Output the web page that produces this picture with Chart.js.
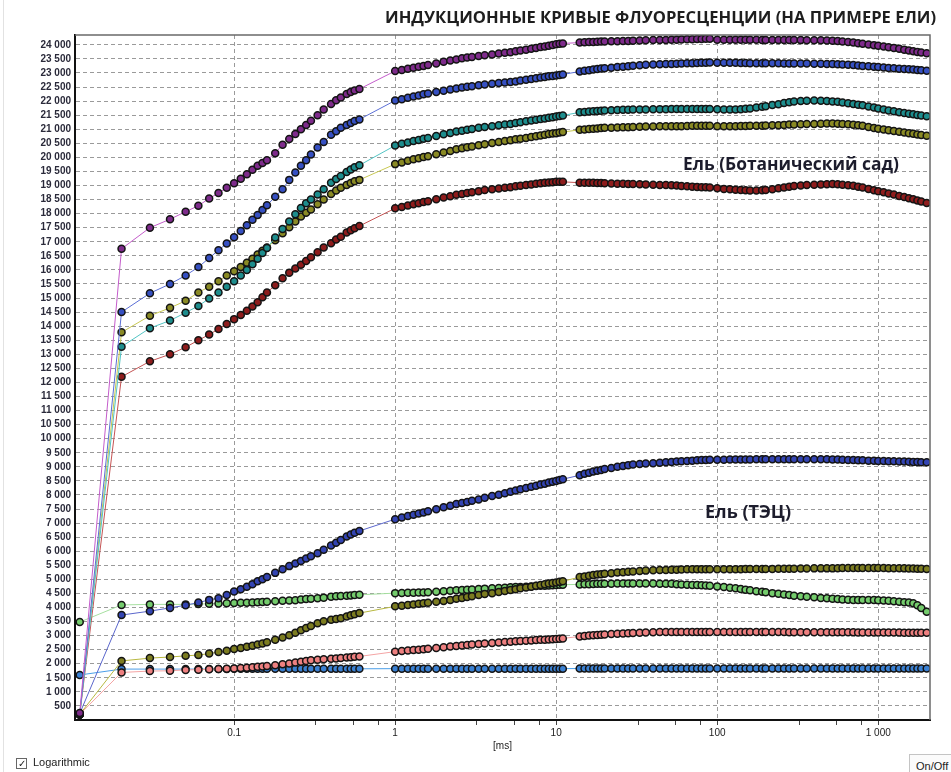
<!DOCTYPE html>
<html>
<head>
<meta charset="utf-8">
<script src="https://cdn.jsdelivr.net/npm/chart.js@4.4.1/dist/chart.umd.min.js"></script>
<style>
	body { margin: 0; background: #fff; }
	#wrap { position: relative; width: 951px; height: 772px; overflow: hidden; }
	#c { display: block; }
	#edge { position: absolute; left: 3px; top: 0; width: 1px; height: 772px; background: #e2e2e2; }
	#title { position: absolute; left: 385px; top: 6px; font: bold 16.6px "Open Sans", sans-serif; color: #1e1e1e; white-space: nowrap; line-height: 22px; }
	.note { position: absolute; font: bold 17.4px "Open Sans", sans-serif; color: #1c1c2c; white-space: nowrap; line-height: 24px; }
	#bot { left: 683px; top: 151px; }
	#tec { left: 705px; top: 499px; font-size: 18px; }
	#logopt { position: absolute; left: 16px; top: 756px; font: 11px "Liberation Sans", Arial, sans-serif; color: #222; white-space: nowrap; }
	#logopt .box { display: inline-block; width: 9px; height: 9px; border: 1px solid #666; background: #fff; font-size: 10px; line-height: 9px; text-align: center; margin-right: 6px; vertical-align: -1px; }
	#onoff { position: absolute; left: 909px; top: 754px; width: 46px; height: 22px; border: 1px solid #c4c4c4; background: #fbfbfb; font: 11px "Liberation Sans", Arial, sans-serif; color: #222; line-height: 22px; padding-left: 6px; box-sizing: border-box; }
</style>
</head>
<body>
<div id="wrap">
	<canvas id="c" width="951" height="772"></canvas>
	<div id="edge"></div>
	<div id="title">ИНДУКЦИОННЫЕ КРИВЫЕ ФЛУОРЕСЦЕНЦИИ (НА ПРИМЕРЕ ЕЛИ)</div>
	<div class="note" id="bot">Ель (Ботанический сад)</div>
	<div class="note" id="tec">Ель (ТЭЦ)</div>
	<div id="logopt"><span class="box">✓</span>Logarithmic</div>
	<div id="onoff">On/Off</div>
</div>
<script>
// time points, ms (four measuring segments)
const times = [
	0.011, 0.02, 0.03, 0.04, 0.05, 0.06, 0.07, 0.08, 0.09, 0.1, 0.11, 0.12, 0.13, 0.14, 0.15, 0.16, 0.18, 0.2, 0.22, 0.24, 0.26, 0.28, 0.3, 0.33, 0.36, 0.4, 0.43, 0.46, 0.5, 0.53, 0.56, 0.6,
	1, 1.1, 1.2, 1.3, 1.4, 1.5, 1.6, 1.8, 2, 2.2, 2.4, 2.6, 2.8, 3, 3.3, 3.6, 4, 4.4, 4.8, 5.2, 5.6, 6, 6.5, 7, 7.5, 8, 8.5, 9, 9.5, 10, 10.5, 11,
	14, 15, 16, 17, 18, 19, 20, 22, 24, 26, 28, 30, 33, 36, 40, 44, 48, 52, 56, 60, 65, 70, 75, 80, 85, 90,
	100, 110, 120, 130, 140, 150, 160, 175, 190, 200, 220, 240, 260, 280, 300, 330, 360, 400, 440, 480, 520, 560, 600, 650, 700, 750, 800, 870, 940, 1000, 1080, 1160, 1250, 1350, 1450, 1550, 1650, 1750, 1850, 2000
];

// Ель (Ботанический сад)
const botPurple = [
	250, 16750, 17500, 17800, 18070, 18280, 18540, 18730, 18920, 19080, 19240, 19400, 19560, 19700, 19800, 19900, 20150, 20450, 20650, 20830, 21000, 21150, 21300, 21500, 21700, 21900, 22030, 22130, 22250, 22320, 22380, 22430,
	23070, 23110, 23150, 23190, 23220, 23250, 23280, 23340, 23400, 23440, 23480, 23520, 23550, 23570, 23600, 23630, 23660, 23690, 23720, 23740, 23770, 23800, 23830, 23860, 23890, 23920, 23945, 23970, 23995, 24020, 24035, 24050,
	24080, 24090, 24100, 24105, 24110, 24115, 24120, 24125, 24130, 24135, 24140, 24150, 24155, 24160, 24170, 24175, 24175, 24180, 24185, 24190, 24195, 24200, 24205, 24210, 24215, 24220,
	24180, 24180, 24180, 24180, 24180, 24180, 24180, 24178, 24176, 24175, 24173, 24171, 24170, 24170, 24170, 24168, 24167, 24165, 24160, 24155, 24145, 24135, 24120, 24100, 24080, 24060, 24040, 24015, 23990, 23970, 23940, 23915, 23890, 23860, 23830, 23800, 23775, 23750, 23730, 23700
];
const botBlue = [
	200, 14500, 15170, 15500, 15800, 16100, 16420, 16700, 16940, 17160, 17380, 17590, 17780, 17950, 18130, 18300, 18600, 18870, 19200, 19460, 19700, 19900, 20100, 20350, 20550, 20800, 20930, 21050, 21150, 21220, 21290, 21350,
	22020, 22070, 22120, 22160, 22200, 22240, 22270, 22320, 22370, 22410, 22450, 22480, 22510, 22530, 22560, 22590, 22620, 22640, 22660, 22680, 22700, 22730, 22760, 22790, 22815, 22840, 22860, 22880, 22895, 22910, 22930, 22950,
	23050, 23075, 23100, 23120, 23140, 23155, 23170, 23190, 23210, 23225, 23240, 23260, 23275, 23290, 23300, 23310, 23315, 23320, 23330, 23340, 23345, 23350, 23355, 23360, 23365, 23370,
	23360, 23360, 23360, 23360, 23355, 23355, 23350, 23350, 23350, 23350, 23345, 23345, 23340, 23340, 23340, 23335, 23335, 23330, 23325, 23320, 23315, 23310, 23300, 23290, 23280, 23265, 23250, 23235, 23220, 23210, 23195, 23180, 23165, 23150, 23140, 23130, 23120, 23105, 23095, 23080
];
const botTeal = [
	200, 13270, 13930, 14200, 14480, 14720, 14980, 15200, 15400, 15600, 15800, 16000, 16200, 16400, 16600, 16780, 17150, 17450, 17720, 17980, 18200, 18370, 18500, 18680, 18870, 19100, 19230, 19340, 19480, 19570, 19650, 19720,
	20420, 20480, 20530, 20580, 20620, 20660, 20690, 20760, 20820, 20870, 20920, 20950, 20980, 21010, 21050, 21080, 21110, 21140, 21170, 21190, 21220, 21250, 21280, 21310, 21340, 21360, 21385, 21410, 21430, 21450, 21470, 21490,
	21600, 21615, 21630, 21640, 21650, 21660, 21670, 21675, 21685, 21690, 21695, 21700, 21705, 21705, 21710, 21715, 21715, 21720, 21720, 21720, 21720, 21720, 21720, 21720, 21720, 21720,
	21710, 21705, 21700, 21700, 21710, 21725, 21740, 21770, 21800, 21820, 21860, 21890, 21930, 21960, 21990, 22005, 22015, 22020, 22010, 22000, 21990, 21975, 21950, 21925, 21900, 21875, 21850, 21810, 21770, 21740, 21700, 21670, 21640, 21600, 21575, 21550, 21530, 21505, 21485, 21460
];
const botOlive = [
	200, 13780, 14370, 14650, 14900, 15200, 15400, 15600, 15800, 15950, 16100, 16250, 16400, 16550, 16680, 16800, 17050, 17300, 17520, 17720, 17900, 18030, 18150, 18330, 18500, 18700, 18820, 18920, 19020, 19090, 19150, 19200,
	19760, 19820, 19880, 19930, 19970, 20010, 20040, 20110, 20170, 20230, 20290, 20320, 20360, 20390, 20430, 20470, 20510, 20550, 20580, 20610, 20640, 20660, 20690, 20720, 20750, 20780, 20805, 20830, 20845, 20860, 20880, 20900,
	20980, 20995, 21010, 21020, 21030, 21040, 21050, 21055, 21065, 21070, 21075, 21080, 21090, 21095, 21100, 21105, 21105, 21110, 21110, 21110, 21115, 21120, 21120, 21120, 21120, 21120,
	21110, 21110, 21110, 21110, 21115, 21115, 21120, 21125, 21128, 21130, 21140, 21145, 21155, 21165, 21170, 21180, 21185, 21190, 21195, 21200, 21200, 21195, 21190, 21175, 21160, 21140, 21120, 21080, 21045, 21020, 20990, 20965, 20940, 20910, 20885, 20860, 20840, 20815, 20795, 20770
];
const botRed = [
	200, 12200, 12750, 13000, 13250, 13500, 13700, 13900, 14080, 14250, 14400, 14550, 14700, 14850, 15030, 15200, 15450, 15700, 15900, 16050, 16180, 16320, 16450, 16630, 16800, 16950, 17080, 17180, 17330, 17410, 17480, 17560,
	18190, 18240, 18290, 18330, 18370, 18410, 18440, 18510, 18570, 18620, 18670, 18700, 18730, 18760, 18800, 18840, 18870, 18890, 18920, 18940, 18970, 18990, 19020, 19040, 19060, 19080, 19095, 19110, 19120, 19130, 19130, 19130,
	19100, 19100, 19100, 19095, 19090, 19085, 19080, 19075, 19065, 19060, 19055, 19050, 19045, 19040, 19030, 19020, 19015, 19010, 19000, 18980, 18970, 18960, 18950, 18940, 18935, 18930,
	18900, 18880, 18865, 18850, 18840, 18830, 18820, 18820, 18830, 18840, 18870, 18900, 18930, 18960, 18980, 19000, 19015, 19030, 19040, 19045, 19050, 19045, 19030, 19010, 18990, 18960, 18930, 18880, 18830, 18800, 18760, 18720, 18680, 18630, 18590, 18550, 18510, 18470, 18430, 18380
];

// Ель (ТЭЦ)
const tecBlue = [
	230, 3730, 3870, 3985, 4080, 4175, 4270, 4330, 4440, 4570, 4650, 4740, 4830, 4930, 5000, 5080, 5230, 5360, 5470, 5560, 5650, 5740, 5820, 5930, 6050, 6200, 6300, 6400, 6520, 6590, 6660, 6720,
	7140, 7200, 7250, 7300, 7340, 7380, 7420, 7490, 7560, 7620, 7680, 7710, 7750, 7790, 7840, 7900, 7960, 8010, 8060, 8110, 8160, 8200, 8250, 8290, 8330, 8370, 8400, 8440, 8470, 8500, 8530, 8560,
	8700, 8750, 8790, 8830, 8860, 8890, 8920, 8960, 9000, 9030, 9060, 9080, 9100, 9115, 9130, 9145, 9160, 9170, 9185, 9200, 9210, 9220, 9230, 9240, 9245, 9250,
	9250, 9255, 9258, 9260, 9260, 9260, 9260, 9265, 9268, 9270, 9270, 9270, 9270, 9270, 9270, 9270, 9270, 9270, 9268, 9265, 9262, 9258, 9250, 9245, 9240, 9235, 9230, 9220, 9215, 9210, 9205, 9200, 9195, 9190, 9185, 9180, 9175, 9170, 9165, 9160
];
const tecOlive = [
	200, 2100, 2200, 2240, 2280, 2310, 2360, 2420, 2460, 2520, 2560, 2600, 2640, 2680, 2720, 2760, 2850, 2930, 3010, 3100, 3190, 3270, 3340, 3440, 3510, 3560, 3590, 3620, 3680, 3720, 3760, 3800,
	4040, 4065, 4090, 4110, 4130, 4150, 4170, 4200, 4230, 4270, 4310, 4340, 4370, 4400, 4440, 4480, 4510, 4550, 4590, 4620, 4650, 4680, 4710, 4740, 4770, 4800, 4825, 4850, 4870, 4890, 4910, 4930,
	5080, 5105, 5130, 5150, 5170, 5185, 5200, 5220, 5240, 5255, 5270, 5280, 5295, 5310, 5320, 5330, 5335, 5340, 5345, 5350, 5355, 5360, 5360, 5360, 5360, 5360,
	5360, 5360, 5360, 5360, 5362, 5365, 5370, 5370, 5370, 5370, 5372, 5375, 5378, 5380, 5380, 5382, 5385, 5390, 5390, 5390, 5390, 5395, 5400, 5400, 5400, 5400, 5400, 5400, 5400, 5400, 5400, 5398, 5395, 5392, 5390, 5385, 5382, 5378, 5375, 5370
];
const tecGreen = [
	3480, 4090, 4110, 4110, 4110, 4120, 4130, 4140, 4150, 4160, 4165, 4170, 4180, 4190, 4195, 4200, 4220, 4240, 4250, 4260, 4280, 4300, 4310, 4330, 4350, 4380, 4400, 4410, 4420, 4430, 4440, 4450,
	4510, 4515, 4520, 4525, 4530, 4535, 4540, 4560, 4580, 4595, 4610, 4620, 4630, 4640, 4655, 4670, 4680, 4690, 4705, 4715, 4725, 4730, 4740, 4750, 4760, 4770, 4775, 4780, 4790, 4800, 4805, 4810,
	4820, 4825, 4830, 4835, 4840, 4840, 4840, 4845, 4850, 4850, 4850, 4850, 4850, 4850, 4850, 4845, 4845, 4840, 4830, 4820, 4810, 4800, 4795, 4790, 4780, 4770,
	4750, 4730, 4705, 4680, 4655, 4630, 4610, 4580, 4555, 4540, 4510, 4485, 4465, 4445, 4420, 4400, 4385, 4360, 4340, 4325, 4310, 4300, 4285, 4275, 4270, 4270, 4270, 4265, 4262, 4260, 4250, 4240, 4225, 4205, 4190, 4180, 4150, 4080, 3980, 3850
];
const tecPink = [
	200, 1690, 1740, 1750, 1780, 1790, 1800, 1810, 1820, 1830, 1845, 1860, 1875, 1890, 1905, 1920, 1950, 1980, 2010, 2040, 2070, 2100, 2120, 2140, 2160, 2180, 2190, 2200, 2220, 2230, 2245, 2260,
	2430, 2450, 2470, 2485, 2500, 2515, 2530, 2560, 2590, 2610, 2630, 2650, 2665, 2680, 2700, 2720, 2740, 2755, 2770, 2785, 2800, 2810, 2820, 2830, 2840, 2850, 2855, 2860, 2870, 2880, 2890, 2900,
	2970, 2985, 3000, 3010, 3020, 3030, 3040, 3055, 3065, 3075, 3085, 3090, 3100, 3110, 3120, 3125, 3128, 3130, 3130, 3130, 3130, 3130, 3130, 3130, 3130, 3130,
	3130, 3130, 3130, 3130, 3130, 3130, 3130, 3130, 3130, 3130, 3128, 3126, 3124, 3122, 3120, 3120, 3120, 3120, 3120, 3120, 3120, 3120, 3120, 3118, 3115, 3112, 3110, 3110, 3110, 3110, 3110, 3110, 3108, 3106, 3104, 3102, 3100, 3100, 3100, 3100
];
const tecSky = [
	1600, 1810, 1810, 1810, 1810, 1810, 1810, 1815, 1815, 1820, 1820, 1820, 1820, 1820, 1820, 1820, 1820, 1820, 1820, 1820, 1820, 1820, 1820, 1820, 1820, 1820, 1820, 1820, 1820, 1820, 1820, 1820,
	1825, 1825, 1825, 1825, 1825, 1825, 1825, 1825, 1825, 1825, 1825, 1825, 1825, 1825, 1825, 1825, 1825, 1825, 1825, 1825, 1825, 1825, 1825, 1825, 1825, 1825, 1825, 1825, 1825, 1825, 1825, 1825,
	1830, 1830, 1830, 1830, 1830, 1830, 1830, 1830, 1830, 1830, 1830, 1830, 1830, 1830, 1830, 1830, 1830, 1830, 1830, 1830, 1830, 1830, 1830, 1830, 1830, 1830,
	1830, 1830, 1830, 1830, 1830, 1830, 1830, 1830, 1830, 1830, 1830, 1830, 1830, 1830, 1830, 1830, 1830, 1830, 1830, 1830, 1830, 1830, 1830, 1830, 1830, 1830, 1830, 1830, 1830, 1830, 1830, 1830, 1830, 1830, 1830, 1830, 1830, 1830, 1830, 1830
];

// axis ticks
const xTickValues = [0.1, 1, 10, 100, 1000];
const xMinorSteps = [3.2, 5.5, 7.8];
const yTickValues = [];
for (let v = 500; v <= 24000; v += 500) yTickValues.push(v);

function spaced(v) {
	if (v < 1) return String(v);
	return String(v).replace(/\B(?=(\d{3})+(?!\d))/g, " ");
}

function makeSet(values, line, fill) {
	return {
		data: times.map((t, i) => ({ x: t, y: values[i] })),
		borderColor: line,
		borderWidth: 1,
		backgroundColor: fill,
		pointBackgroundColor: fill,
		pointBorderColor: "#141414",
		pointBorderWidth: 1.5,
		pointRadius: 3.5,
		tension: 0,
	};
}

// frame (top/right) and small x ticks
const framePlugin = {
	id: "frame",
	afterDraw(chart) {
		const { ctx, chartArea: a, scales } = chart;
		ctx.save();
		ctx.strokeStyle = "#6a6a6a";
		ctx.lineWidth = 1.5;
		ctx.beginPath();
		ctx.moveTo(a.left, a.top);
		ctx.lineTo(a.right, a.top);
		ctx.lineTo(a.right, a.bottom);
		ctx.stroke();

		ctx.strokeStyle = "#444";
		ctx.lineWidth = 1;
		xTickValues.forEach((d) => {
			xMinorSteps.forEach((m) => {
				const px = Math.round(scales.x.getPixelForValue(d * m)) + 0.5;
				if (px < a.right) {
					ctx.beginPath();
					ctx.moveTo(px, a.bottom + 1);
					ctx.lineTo(px, a.bottom + 5);
					ctx.stroke();
				}
			});
		});
		ctx.restore();
	},
};

Chart.defaults.font.family = '"Liberation Sans", Arial, sans-serif';
Chart.defaults.font.size = 10;
Chart.defaults.color = "#2a2a2a";

new Chart(document.getElementById("c"), {
	type: "line",
	data: {
		datasets: [
			makeSet(botPurple, "#c45ccb", "#7e2b8b"),
			makeSet(botBlue, "#5b6fd6", "#3650c2"),
			makeSet(botTeal, "#52c4c4", "#1d8d8d"),
			makeSet(botOlive, "#c8c852", "#8a8a24"),
			makeSet(botRed, "#c45454", "#8e1c1c"),
			makeSet(tecBlue, "#5a66cc", "#3344b2"),
			makeSet(tecOlive, "#b8b840", "#7c7c20"),
			makeSet(tecGreen, "#a6e0a0", "#74cc6c"),
			makeSet(tecPink, "#f4a4a4", "#ee8080"),
			makeSet(tecSky, "#4a9ee8", "#3a80d2"),
		],
	},
	options: {
		responsive: false,
		animation: false,
		devicePixelRatio: 1,
		layout: { padding: { left: 0, top: 35, right: 21, bottom: 0 } },
		plugins: {
			legend: { display: false },
			tooltip: { enabled: false },
		},
		scales: {
			x: {
				type: "logarithmic",
				min: 0.01028,
				max: 2096,
				afterBuildTicks: (s) => {
					s.ticks = xTickValues.map((v) => ({ value: v }));
				},
				afterFit: (s) => {
					s.height = 52;
				},
				ticks: {
					autoSkip: false,
					maxRotation: 0,
					padding: 2,
					color: "#222",
					callback: (v) => spaced(v),
				},
				grid: {
					color: "#9a9a9a",
					lineWidth: 1,
					tickLength: 5,
					tickColor: "#444",
					tickBorderDash: [],
				},
				border: { color: "#111", width: 2, dash: [4, 3] },
				title: {
					display: true,
					text: "[ms]",
					color: "#222",
					font: { size: 10 },
					padding: { top: 0, bottom: 20 },
				},
			},
			y: {
				min: 0,
				max: 24350,
				afterBuildTicks: (s) => {
					s.ticks = yTickValues.map((v) => ({ value: v }));
				},
				afterFit: (s) => {
					s.width = 75;
				},
				ticks: {
					autoSkip: false,
					padding: 4,
					color: "#2a2a3a",
					font: { weight: "bold" },
					callback: (v) => spaced(v),
				},
				grid: {
					color: "#9a9a9a",
					lineWidth: 1,
					drawTicks: false,
				},
				border: { color: "#111", width: 2, dash: [4, 3] },
			},
		},
	},
	plugins: [framePlugin],
});
</script>
</body>
</html>
